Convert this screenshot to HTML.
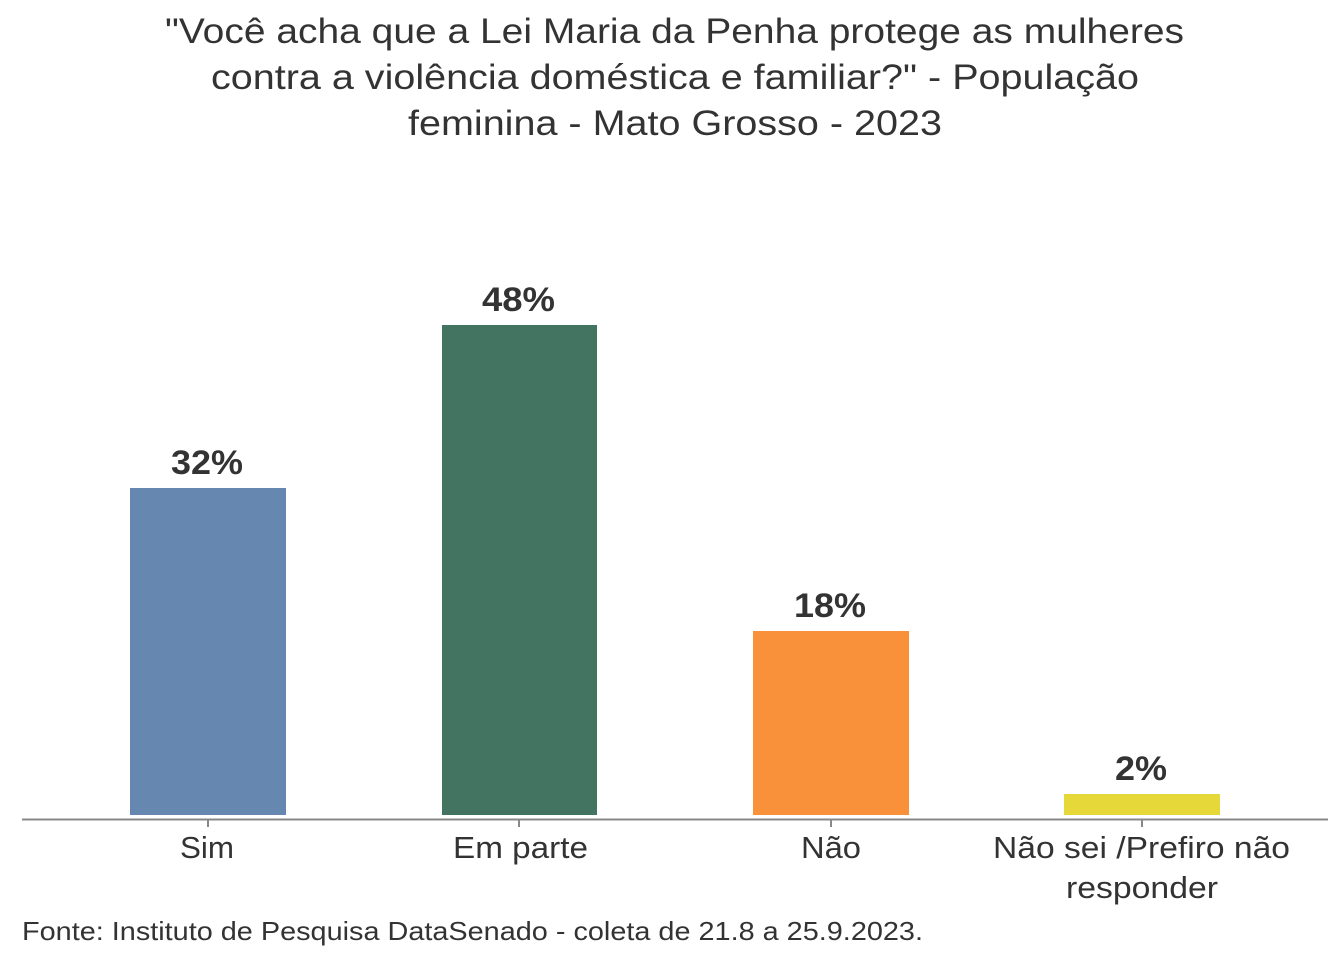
<!DOCTYPE html>
<html><head><meta charset="utf-8"><style>
body{margin:0;background:#fff;width:1344px;height:960px;overflow:hidden;font-family:"Liberation Sans",sans-serif;color:#333}
</style></head><body>
<svg width="1344" height="960" xmlns="http://www.w3.org/2000/svg" font-family="Liberation Sans, sans-serif">
<g font-size="35" fill="#333" lengthAdjust="spacingAndGlyphs">
<text x="165" y="43" textLength="1019" lengthAdjust="spacingAndGlyphs">"Você acha que a Lei Maria da Penha protege as mulheres</text>
<text x="211" y="89" textLength="928" lengthAdjust="spacingAndGlyphs">contra a violência doméstica e familiar?" - População</text>
<text x="408" y="135" textLength="534" lengthAdjust="spacingAndGlyphs">feminina - Mato Grosso - 2023</text>
</g>
<rect x="130" y="488" width="156" height="327" fill="#6688b0"/>
<rect x="442" y="325" width="155" height="490" fill="#437462"/>
<rect x="753" y="631" width="156" height="184" fill="#f9913b"/>
<rect x="1064" y="794" width="156" height="21" fill="#e5d838"/>
<line x1="22" y1="819.5" x2="1328" y2="819.5" stroke="#888" stroke-width="2"/>
<g stroke="#888" stroke-width="2">
<line x1="208" y1="819" x2="208" y2="827"/><line x1="519" y1="819" x2="519" y2="827"/>
<line x1="831" y1="819" x2="831" y2="827"/><line x1="1142" y1="819" x2="1142" y2="827"/>
</g>
<g font-size="34" font-weight="bold" fill="#333">
<text x="171" y="474" textLength="72" lengthAdjust="spacingAndGlyphs">32%</text>
<text x="482" y="311" textLength="73" lengthAdjust="spacingAndGlyphs">48%</text>
<text x="794" y="617" textLength="72" lengthAdjust="spacingAndGlyphs">18%</text>
<text x="1115" y="780" textLength="52" lengthAdjust="spacingAndGlyphs">2%</text>
</g>
<g font-size="31" fill="#333">
<text x="180" y="858" textLength="54" lengthAdjust="spacingAndGlyphs">Sim</text>
<text x="453" y="858" textLength="135" lengthAdjust="spacingAndGlyphs">Em parte</text>
<text x="801" y="858" textLength="60" lengthAdjust="spacingAndGlyphs">Não</text>
<text x="993" y="858" textLength="297" lengthAdjust="spacingAndGlyphs">Não sei /Prefiro não</text>
<text x="1066" y="898" textLength="152" lengthAdjust="spacingAndGlyphs">responder</text>
</g>
<text x="22" y="940" font-size="26" fill="#333" textLength="901" lengthAdjust="spacingAndGlyphs">Fonte: Instituto de Pesquisa DataSenado - coleta de 21.8 a 25.9.2023.</text>
</svg>
</body></html>
